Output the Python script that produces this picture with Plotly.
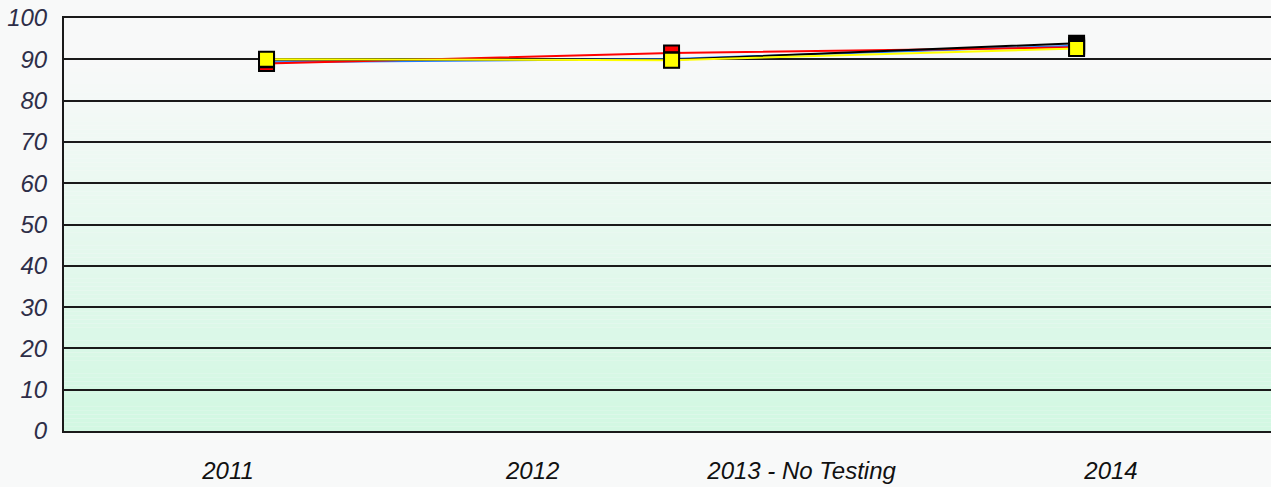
import plotly.graph_objects as go

# ---- data ----
x_labels = ["2011", "2012", "2013 - No Testing", "2014"]
point_x = [0.5, 1.5, 2.5]
blue_vals = [89.3, 90.1, 93.3]
red_vals = [89.0, 91.5, 92.9]
black_vals = [89.9, 89.9, 93.9]
yellow_vals = [90.0, 89.8, 92.6]
y_ticks = list(range(0, 101, 10))

# ---- layout constants ----
label_pos = [0.405, 1.157, 1.821, 2.585]
series = [
    ("Blue", blue_vals, "#1f78ff"),
    ("Red", red_vals, "#ff0000"),
    ("Black", black_vals, "#000000"),
    ("Yellow", yellow_vals, "#ffff00"),
]
FONT = "Liberation Sans, Arial, sans-serif"

fig = go.Figure()
for name, vals, col in series:
    fig.add_trace(go.Scatter(
        x=point_x, y=vals, name=name, mode="lines+markers",
        line=dict(color=col, width=2),
        marker=dict(symbol="square", size=15, color=col,
                    line=dict(color="#000000", width=2)),
        hoverinfo="skip",
    ))

# background gradient (top light grey -> bottom light green)
def lerp(a, b, t):
    return int(round(a + (b - a) * t))

top_c = (248, 249, 249)
bot_c = (211, 248, 227)
n = 100
shapes = []
for i in range(n):
    y0 = i / n
    y1 = (i + 1) / n
    v = (y0 + y1) / 2 * 100
    t = min(max((90 - v) / 85.0, 0), 1)
    c = tuple(lerp(top_c[k], bot_c[k], t) for k in range(3))
    shapes.append(dict(type="rect", xref="x domain", yref="y domain",
                       x0=0, x1=1, y0=y0, y1=y1, layer="below",
                       line=dict(width=0), fillcolor="rgb(%d,%d,%d)" % c))

fig.update_layout(
    width=1271, height=487,
    margin=dict(l=64, r=0, t=18, b=56),
    paper_bgcolor="#f8f9f9",
    plot_bgcolor="#f8f9f9",
    showlegend=False,
    shapes=shapes,
    font=dict(family=FONT, size=24, style="italic"),
    xaxis=dict(
        range=[0, 2.98], tickvals=label_pos, ticktext=x_labels,
        showgrid=False, zeroline=False, ticks="", automargin=False,
        showline=True, mirror=True, linecolor="#1a1a1a", linewidth=2,
        tickfont=dict(color="#111111", size=24, style="italic", family=FONT),
        ticklabelstandoff=17, fixedrange=True,
    ),
    yaxis=dict(
        range=[0, 100], tickvals=y_ticks, automargin=False,
        showgrid=True, gridcolor="#1a1a1a", gridwidth=2,
        zeroline=True, zerolinecolor="#1a1a1a", zerolinewidth=2,
        showline=True, linecolor="#1a1a1a", linewidth=2,
        ticks="", ticklabelstandoff=10,
        tickfont=dict(color="#2e2e48", size=24, style="italic", family=FONT),
        fixedrange=True,
    ),
)

fig.write_html(
    "out.html",
    config={"displayModeBar": False},
    post_script="document.body.style.margin='0';document.body.style.background='#f8f9f9';document.body.style.overflow='hidden';",
)
